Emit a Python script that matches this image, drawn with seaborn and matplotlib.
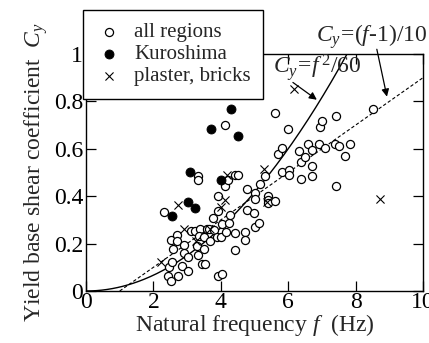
import numpy as np
import pandas as pd
import matplotlib
matplotlib.use("Agg")
import matplotlib.pyplot as plt
import seaborn as sns

# ---- data ----
all_f = [2.30, 2.45, 2.42, 2.52, 2.51, 2.59, 2.54, 2.69, 2.69, 2.72, 2.84, 2.92, 2.92, 3.02, 3.02,
         3.11, 3.22, 3.32, 3.32, 3.39, 3.36, 3.29, 3.32, 3.44, 3.53, 3.51, 3.51, 3.58, 3.66, 3.68,
         3.78, 3.80, 3.91, 3.93, 3.88, 3.93, 4.03, 4.01, 4.03, 4.11, 4.13, 4.20, 4.23, 4.28, 4.16,
         4.41, 4.52, 4.43, 4.41, 4.72, 4.72, 4.79, 4.79, 4.99, 5.02, 5.02, 5.02, 5.12, 5.17, 5.32,
         5.39, 5.40, 5.40, 5.61, 5.61, 5.71, 5.81, 5.81, 5.99, 6.01, 6.01, 6.33, 6.39, 6.39, 6.50,
         6.60, 6.70, 6.70, 6.70, 6.90, 6.93, 7.00, 7.10, 7.43, 7.40, 7.50, 7.43, 7.69, 7.82, 8.51]
all_c = [0.333, 0.103, 0.063, 0.042, 0.216, 0.176, 0.124, 0.237, 0.209, 0.063, 0.106, 0.195, 0.162, 0.142, 0.085,
         0.254, 0.254, 0.484, 0.470, 0.261, 0.230, 0.188, 0.152, 0.113, 0.113, 0.176, 0.227, 0.261, 0.261, 0.209,
         0.307, 0.258, 0.402, 0.336, 0.227, 0.063, 0.071, 0.227, 0.282, 0.702, 0.441, 0.470, 0.286, 0.322, 0.251,
         0.491, 0.491, 0.244, 0.173, 0.251, 0.216, 0.430, 0.340, 0.331, 0.413, 0.388, 0.269, 0.289, 0.451, 0.484,
         0.402, 0.385, 0.371, 0.749, 0.381, 0.580, 0.604, 0.501, 0.685, 0.512, 0.491, 0.592, 0.543, 0.472, 0.564,
         0.622, 0.594, 0.526, 0.484, 0.622, 0.691, 0.719, 0.604, 0.738, 0.622, 0.611, 0.441, 0.571, 0.622, 0.769]

kuro_f = [2.54, 3.04, 3.22, 3.09, 3.70, 4.30, 4.52, 4.00]
kuro_c = [0.317, 0.374, 0.350, 0.502, 0.684, 0.769, 0.653, 0.470]

brick_f = [6.16, 8.71, 2.72, 2.92, 2.23, 4.13, 4.00, 5.27, 5.37, 4.18, 3.27, 3.68]
brick_c = [0.851, 0.390, 0.364, 0.261, 0.124, 0.385, 0.355, 0.515, 0.375, 0.490, 0.210, 0.260]

labels = ["all regions", "Kuroshima", "plaster, bricks"]
x_ticks = [0, 2, 4, 6, 8, 10]
y_ticks = [0, 0.2, 0.4, 0.6, 0.8, 1]
y_tick_labels = ["0", "0.2", "0.4", "0.6", "0.8", "1"]

# design curves (as given by the formulas in the chart)
f1 = np.linspace(0, np.sqrt(60), 200)
c1 = f1 ** 2 / 60
f2 = np.linspace(1, 10, 50)
c2 = (f2 - 1) / 10

# ---- style ----
sns.set_theme(style="ticks")
plt.rcParams["font.family"] = ["Liberation Serif", "DejaVu Serif"]
plt.rcParams["mathtext.fontset"] = "custom"
plt.rcParams["mathtext.rm"] = "Liberation Serif"
plt.rcParams["mathtext.it"] = "Liberation Serif:italic"
plt.rcParams["axes.edgecolor"] = "black"

fig = plt.figure(figsize=(4.29, 3.43), dpi=100)
ax = fig.add_axes([86 / 429, 1 - 291 / 343, (423 - 86) / 429, (291 - 54) / 343])

df_all = pd.DataFrame({"f": all_f, "c": all_c})
df_k = pd.DataFrame({"f": kuro_f, "c": kuro_c})
df_b = pd.DataFrame({"f": brick_f, "c": brick_c})

sns.lineplot(x=f1, y=c1, ax=ax, color="black", lw=1.0, zorder=2)
ax.plot(f2, c2, color="black", lw=0.8, ls=(0, (3, 2)), zorder=2)

sns.scatterplot(data=df_all, x="f", y="c", ax=ax, marker="o", s=34,
                facecolor="white", edgecolor="black", linewidth=0.9, zorder=3, label=labels[0])
sns.scatterplot(data=df_k, x="f", y="c", ax=ax, marker="o", s=42,
                color="black", edgecolor="black", linewidth=0.6, zorder=4, label=labels[1])
sns.scatterplot(data=df_b, x="f", y="c", ax=ax, marker="x", s=34,
                color="black", linewidth=0.8, zorder=4, label=labels[2])

ax.set_xlim(0, 10)
ax.set_ylim(0, 1)
ax.set_xticks(x_ticks)
ax.set_xticklabels([str(t) for t in x_ticks])
ax.set_yticks(y_ticks)
ax.set_yticklabels(y_tick_labels)
ax.tick_params(direction="in", length=7, width=0.9, top=True, right=True,
               labelsize=17, pad=2, colors="black")
ax.tick_params(axis="x", pad=1)
for sp in ax.spines.values():
    sp.set_linewidth(1.0)
    sp.set_color("black")

ax.set_xlabel("Natural frequency $f$  (Hz)", fontsize=17, labelpad=-1)
ax.set_ylabel("Yield base shear coefficient  $C_y$", fontsize=17, labelpad=3)

# annotations
ax.text(5.55, 0.92, r"$C_y\!=\!f^{\,2}/60$", fontsize=17, ha="left", va="baseline", zorder=6, clip_on=False)
ax.annotate("", xy=(6.85, 0.807), xytext=(6.14, 0.88),
            arrowprops=dict(arrowstyle="-|>", color="black", lw=0.9, mutation_scale=11, shrinkA=0, shrinkB=0))
ax.text(10.12, 1.05, r"$C_y\!=\!(f$-$1)/10$", fontsize=17, ha="right", va="baseline", clip_on=False)
ax.annotate("", xy=(8.93, 0.82), xytext=(8.63, 1.02),
            arrowprops=dict(arrowstyle="-|>", color="black", lw=0.9, mutation_scale=11, shrinkA=0, shrinkB=0),
            annotation_clip=False)

handles, labs = ax.get_legend_handles_labels()
ax.legend_.remove()
leg = fig.legend(handles, labs, loc="upper left", bbox_to_anchor=(83 / 429, 1 - 10 / 343),
                 bbox_transform=fig.transFigure, fontsize=15, frameon=True, fancybox=False,
                 edgecolor="black", framealpha=1, borderpad=0.6, labelspacing=0.12,
                 handlelength=1.3, handletextpad=0.55, borderaxespad=0)
leg.get_frame().set_linewidth(1.0)

fig.savefig("out.png", dpi=100)
